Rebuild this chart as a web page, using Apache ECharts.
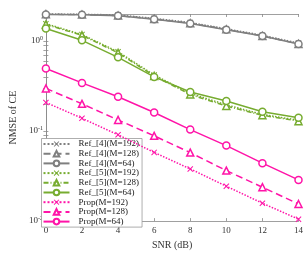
<!DOCTYPE html>
<html><head><meta charset="utf-8">
<script src="https://cdn.jsdelivr.net/npm/echarts@6/dist/echarts.min.js"></script>
<style>html,body{margin:0;padding:0;background:#fff}#c{width:306px;height:255px}</style>
</head><body><div id="c"></div>
<script>
const snr = [0, 2, 4, 6, 8, 10, 12, 14];
const ref4_192 = [2.02, 1.99, 1.95, 1.79, 1.61, 1.37, 1.16, 0.95];
const ref4_128 = [1.99, 1.97, 1.92, 1.76, 1.58, 1.35, 1.14, 0.93];
const ref4_64  = [1.98, 1.96, 1.91, 1.75, 1.57, 1.34, 1.14, 0.93];
const ref5_192 = [1.56, 1.18, 0.76, 0.42, 0.262, 0.196, 0.153, 0.132];
const ref5_128 = [1.53, 1.16, 0.74, 0.41, 0.255, 0.190, 0.150, 0.129];
const ref5_64  = [1.38, 1.02, 0.66, 0.40, 0.272, 0.216, 0.164, 0.141];
const prop_192 = [0.208, 0.139, 0.091, 0.058, 0.038, 0.0244, 0.0158, 0.0105];
const prop_128 = [0.298, 0.201, 0.133, 0.0885, 0.0577, 0.0364, 0.0238, 0.0155];
const prop_64  = [0.496, 0.343, 0.241, 0.161, 0.104, 0.069, 0.044, 0.0287];
const names = ['Ref_[4](M=192)','Ref_[4](M=128)','Ref_[4](M=64)','Ref_[5](M=192)','Ref_[5](M=128)','Ref_[5](M=64)','Prop(M=192)','Prop(M=128)','Prop(M=64)'];
const xTicks = [0, 2, 4, 6, 8, 10, 12, 14];
const yMajor = [0.01, 0.1, 1];

const GRAY = '#7f7f7f', GREEN = '#77ac30', PINK = '#ff14a8';
const FONT = 'Liberation Serif';
const X_SYM = 'path://M0,1.2L1.2,0L5,3.8L8.8,0L10,1.2L6.2,5L10,8.8L8.8,10L5,6.2L1.2,10L0,8.8L3.8,5Z';

const yMinor = [];
for (let e = -2; e <= 0; e++) for (let k = 1; k <= 9; k++) { const v = k * Math.pow(10, e); if (v <= 2.0001) yMinor.push(+v.toPrecision(3)); }
yMinor.push(2);

const datasets = [ref4_192, ref4_128, ref4_64, ref5_192, ref5_128, ref5_64, prop_192, prop_128, prop_64];
const colors = [GRAY, GRAY, GRAY, GREEN, GREEN, GREEN, PINK, PINK, PINK];
const styles = ['dotted', [7, 4], 'solid'];
const greenStyles = ['dotted', [5, 2, 1, 2], 'solid'];
const syms = [X_SYM, 'triangle', 'circle'];

const series = datasets.map((d, i) => {
  const k = i % 3;
  const isX = k === 0;
  return {
    name: names[i], type: 'line',
    data: snr.map((x, j) => [x, d[j]]),
    symbol: syms[k], symbolSize: isX ? 6 : 7,
    showAllSymbol: true,
    lineStyle: { color: colors[i], width: 1.5, type: (i >= 3 && i < 6) ? greenStyles[k] : styles[k] },
    itemStyle: isX ? { color: colors[i], borderWidth: 0 } : { color: '#ffffff', borderColor: colors[i], borderWidth: 1.5 },
    emphasis: { disabled: true },
    z: 10 - Math.floor(i / 3)
  };
});

const fmtY = v => {
  const e = Math.round(Math.log10(v));
  return '{b|10}{s|' + e + '}';
};

const chart = echarts.init(document.getElementById('c'), null, { renderer: 'canvas' });
chart.setOption({
  animation: false,
  backgroundColor: '#ffffff',
  textStyle: { fontFamily: FONT },
  grid: { left: 34, right: 5, top: 14, bottom: 26, containLabel: false },
  legend: {
    orient: 'vertical', left: 41.5, top: 138.5,
    itemWidth: 26, itemHeight: 7, itemGap: 0.7,
    padding: [1, 3, 1, 1],
    backgroundColor: '#ffffff', borderColor: '#999', borderWidth: 0.8,
    textStyle: { fontFamily: FONT, fontSize: 9, lineHeight: 9, height: 9, color: '#222', padding: [0, 0, 0, 4] },
    data: names
  },
  xAxis: [{
    type: 'value', min: 0, max: 14, interval: 2,
    name: 'SNR (dB)', nameLocation: 'middle', nameGap: 16,
    nameTextStyle: { fontFamily: FONT, fontSize: 10, color: '#333' },
    axisLine: { lineStyle: { color: '#888', width: 0.8 } },
    axisTick: { inside: true, length: 3, lineStyle: { color: '#888', width: 0.8 } },
    axisLabel: { fontFamily: FONT, fontSize: 9, color: '#333', margin: 5 },
    splitLine: { show: false }
  }, {
    type: 'value', min: 0, max: 14, interval: 2, position: 'top',
    axisLine: { show: true, lineStyle: { color: '#888', width: 0.8 } },
    axisTick: { inside: true, length: 3, lineStyle: { color: '#888', width: 0.8 } },
    axisLabel: { show: false }, splitLine: { show: false }
  }],
  yAxis: [{
    type: 'log', logBase: 10, min: 0.01, max: 2,
    name: 'NMSE of CE', nameLocation: 'middle', nameGap: 20,
    nameTextStyle: { fontFamily: FONT, fontSize: 10, color: '#333' },
    axisLine: { show: true, lineStyle: { color: '#888', width: 0.8 } },
    axisTick: { inside: true, length: 2.5, customValues: yMinor, lineStyle: { color: '#888', width: 0.8 } },
    axisLabel: {
      customValues: yMajor, formatter: fmtY, margin: 3,
      rich: {
        b: { fontFamily: FONT, fontSize: 9, color: '#333' },
        s: { fontFamily: FONT, fontSize: 6, color: '#333', verticalAlign: 'top', padding: [0, 0, 5, 0] }
      }
    },
    splitLine: { show: false }
  }, {
    type: 'log', logBase: 10, min: 0.01, max: 2, position: 'right',
    axisLine: { show: true, lineStyle: { color: '#888', width: 0.8 } },
    axisTick: { inside: true, length: 2.5, customValues: yMinor, lineStyle: { color: '#888', width: 0.8 } },
    axisLabel: { show: false }, splitLine: { show: false }
  }],
  series: series
});
</script></body></html>
